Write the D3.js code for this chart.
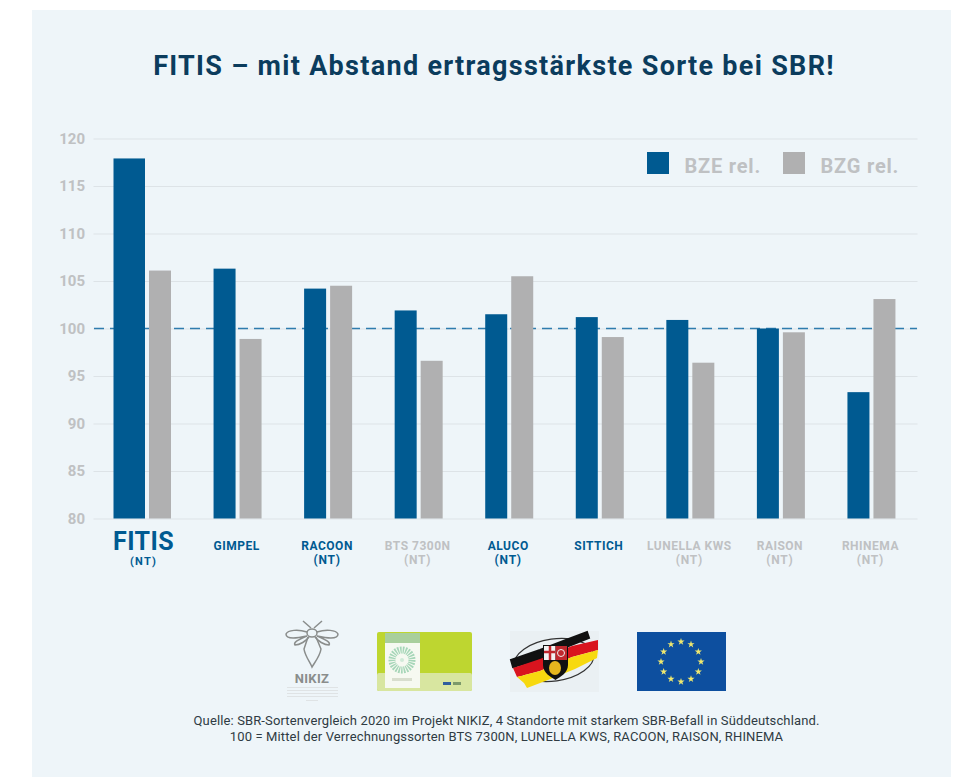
<!DOCTYPE html>
<html>
<head>
<meta charset="utf-8">
<script src="https://d3js.org/d3.v7.min.js"></script>
<style>
html,body{margin:0;padding:0;background:#fff;}
svg{display:block;}
text{font-family:Roboto,sans-serif;}
</style>
</head>
<body>
<script>
var sorten = ["FITIS","GIMPEL","RACOON","BTS 7300N","ALUCO","SITTICH","LUNELLA KWS","RAISON","RHINEMA"];
var zusatz = ["(NT)","","(NT)","(NT)","(NT)","","(NT)","(NT)","(NT)"];
var labelFarbe = ["blau","blau","blau","grau","blau","blau","grau","grau","grau"];
var bze = [117.9,106.3,104.2,101.9,101.5,101.2,100.9,100.0,93.3];
var bzg = [106.1,98.9,104.5,96.6,105.5,99.1,96.4,99.6,103.1];
var yTicks = [80,85,90,95,100,105,110,115,120];
var serien = ["BZE rel.","BZG rel."];
var quelle = ["Quelle: SBR-Sortenvergleich 2020 im Projekt NIKIZ, 4 Standorte mit starkem SBR-Befall in Süddeutschland.",
	"100 = Mittel der Verrechnungssorten BTS 7300N, LUNELLA KWS, RACOON, RAISON, RHINEMA"];

var w = 960, h = 777;
var blau = "#005a91", grau = "#b0b0b1", hell = "#bfc1c3", gitter = "#dde3e7";

var svg = d3.select("body").append("svg").attr("width",w).attr("height",h);

svg.append("rect").attr("x",32).attr("y",10).attr("width",919).attr("height",767).attr("fill","#eef5f9");

svg.append("text").attr("x",494).attr("y",75)
	.attr("text-anchor","middle")
	.attr("font-size",27).attr("font-weight",700).attr("letter-spacing",1.3)
	.attr("fill","#0b3c5d")
	.text("FITIS – mit Abstand ertragsstärkste Sorte bei SBR!");

var y = d3.scaleLinear().domain([80,120]).range([518.5,138.5]);
var x = d3.scaleBand().domain(sorten).range([145,960]).padding(0);
var bw = 22, gap = 4;

var yAxis = d3.axisLeft(y).tickValues(yTicks).tickSize(-824).tickPadding(8);
var gy = svg.append("g").attr("transform","translate(93.5,0)").call(yAxis);
gy.select(".domain").remove();
gy.selectAll(".tick line").attr("stroke",gitter).attr("stroke-width",1);
gy.selectAll(".tick text").attr("font-size",15).attr("font-weight",700).attr("fill",hell).attr("x",-8.5);

svg.append("line").attr("x1",94).attr("x2",917).attr("y1",y(100)).attr("y2",y(100))
	.attr("stroke","#2f7cae").attr("stroke-width",1.7).attr("stroke-dasharray","10 6");

// FITIS bar is wider, grows to the left
var bars = svg.append("g");
bars.selectAll("rect.bze").data(bze).enter().append("rect")
	.attr("class","bze")
	.attr("x",function(d,i){ return x(sorten[i]) - bw - (i==0 ? 9.5 : 0); })
	.attr("width",function(d,i){ return i==0 ? bw+9.5 : bw; })
	.attr("y",function(d){ return y(d); })
	.attr("height",function(d){ return y(80)-y(d); })
	.attr("fill",blau);
bars.selectAll("rect.bzg").data(bzg).enter().append("rect")
	.attr("class","bzg")
	.attr("x",function(d,i){ return x(sorten[i]) + gap; })
	.attr("width",bw)
	.attr("y",function(d){ return y(d); })
	.attr("height",function(d){ return y(80)-y(d); })
	.attr("fill",grau);

var labels = svg.append("g");
sorten.forEach(function(s,i){
	var cx = x(s) + (i==0 ? -1.5 : 1);
	var col = labelFarbe[i]=="blau" ? blau : hell;
	labels.append("text").attr("x",cx).attr("y",i==0 ? 550 : 549.5)
		.attr("text-anchor","middle").attr("font-weight",700)
		.attr("font-size",i==0 ? 25 : 12).attr("letter-spacing",i==0 ? 0.4 : 0.5)
		.attr("fill",col).text(s);
	labels.append("text").attr("x",cx).attr("y",i==0 ? 564.5 : 564)
		.attr("text-anchor","middle").attr("font-weight",700)
		.attr("font-size",i==0 ? 11 : 12).attr("letter-spacing",i==0 ? 1.2 : 0.8)
		.attr("fill",col).text(zusatz[i]);
});

// legend
var leg = svg.append("g");
serien.forEach(function(s,i){
	leg.append("rect").attr("x",647+i*136).attr("y",152).attr("width",22).attr("height",22)
		.attr("fill",i==0 ? blau : grau);
	leg.append("text").attr("x",684.5+i*136).attr("y",173)
		.attr("font-size",20).attr("font-weight",700).attr("letter-spacing",0.8)
		.attr("fill",hell).text(s);
});

// logos
var nikiz = svg.append("g").attr("fill","none").attr("stroke","#8a8d8c").attr("stroke-width",1.5);
nikiz.append("path").attr("d","M303 621L311 628M322 621L314 628");
nikiz.append("ellipse").attr("cx",312).attr("cy",633).attr("rx",5).attr("ry",4);
nikiz.append("path").attr("d","M307 632C298 629 288 630 286 634C286 640 298 638 307 636C298 640 293 642 295 645C300 645 306 641 309 637");
nikiz.append("path").attr("d","M317 632C326 629 336 630 338 634C338 640 326 638 317 636C326 640 331 642 329 645C324 645 318 641 315 637");
nikiz.append("path").attr("d","M308 637L304 649C305 656 310 662 312 667C315 662 320 656 321 649L316 637");
svg.append("text").attr("x",312).attr("y",683).attr("text-anchor","middle")
	.attr("font-size",13).attr("font-weight",700).attr("letter-spacing",0.3).attr("fill","#8a8d8c").text("NIKIZ");
svg.selectAll("rect.mini").data([687,690,693,696,700]).enter().append("rect").attr("class","mini")
	.attr("x",function(d,i){ return i==4 ? 306 : 287; }).attr("y",function(d){ return d; })
	.attr("width",function(d,i){ return i==4 ? 12 : 51; }).attr("height",1).attr("fill","#dfe3e5");

var karte = svg.append("g");
karte.append("rect").attr("x",377).attr("y",632).attr("width",95).attr("height",59).attr("rx",2).attr("fill","#bed630");
karte.append("rect").attr("x",377).attr("y",673).attr("width",95).attr("height",18).attr("rx",2).attr("fill","#d8e6a0");
karte.append("rect").attr("x",385).attr("y",633).attr("width",35).attr("height",10).attr("fill","#a9cf9c");
karte.append("rect").attr("x",385).attr("y",643).attr("width",35).attr("height",45).attr("fill","#f6f9f1");
karte.append("circle").attr("cx",402).attr("cy",660).attr("r",10).attr("fill","none").attr("stroke","#a6d6b8").attr("stroke-width",7).attr("stroke-dasharray","1.5 1");
karte.append("circle").attr("cx",402).attr("cy",660).attr("r",2).attr("fill","#d0ead8");
karte.append("rect").attr("x",392).attr("y",678).attr("width",20).attr("height",3).attr("fill","#d8dece");
karte.append("rect").attr("x",443).attr("y",682).attr("width",8).attr("height",3).attr("fill","#2f5f9e");
karte.append("rect").attr("x",453).attr("y",682).attr("width",8).attr("height",3).attr("fill","#7d9a6a");

var rlp = svg.append("g");
rlp.append("rect").attr("x",510).attr("y",631).attr("width",89).attr("height",61).attr("fill","#eaf0f3");
rlp.append("ellipse").attr("cx",554).attr("cy",660).attr("rx",40).attr("ry",21)
	.attr("transform","rotate(-8 554 660)").attr("fill","none").attr("stroke","#333").attr("stroke-width",1.2);
rlp.append("path").attr("d","M511 660L540 650L566 640L587 632L589 638L566 647L538 660L513 667Z").attr("fill","#111").attr("stroke","#111").attr("stroke-width",2);
rlp.append("path").attr("d","M513 668L540 659L572 646L598 640L598 650L572 657L540 671L517 677Z").attr("fill","#d9141e");
rlp.append("path").attr("d","M517 677L540 671L572 657L598 650L597 658L575 669L548 680L527 688L524 683Z").attr("fill","#f7d90f");
rlp.append("path").attr("d","M543 645H568V665C568 673 560 677 555.5 680C551 677 543 673 543 665Z").attr("fill","#111");
rlp.append("rect").attr("x",544).attr("y",646).attr("width",11.5).attr("height",14).attr("fill","#f2f2f2");
rlp.append("rect").attr("x",555.5).attr("y",646).attr("width",11.5).attr("height",14).attr("fill","#c1272d");
rlp.append("path").attr("d","M550 646V660M544 652H555").attr("stroke","#c1272d").attr("stroke-width",2.5);
rlp.append("circle").attr("cx",561).attr("cy",653).attr("r",3.5).attr("fill","none").attr("stroke","#eee");
rlp.append("ellipse").attr("cx",555).attr("cy",668).attr("rx",6).attr("ry",7).attr("fill","#e6b71e");

var eu = svg.append("g");
eu.append("rect").attr("x",637).attr("y",632).attr("width",89).attr("height",59).attr("fill","#0d4f9f");
var stern = d3.symbol().type(d3.symbolStar).size(16);
eu.selectAll("path").data(d3.range(12)).enter().append("path")
	.attr("d",stern)
	.attr("transform",function(d){
		var a = d*Math.PI/6;
		return "translate("+(681+20*Math.sin(a))+","+(661.7-20*Math.cos(a))+")";
	})
	.attr("fill","#efe86f");

svg.selectAll("text.quelle").data(quelle).enter().append("text")
	.attr("class","quelle")
	.attr("x",506.5).attr("y",function(d,i){ return 725+i*16; })
	.attr("text-anchor","middle").attr("font-size",13).attr("letter-spacing",0.13)
	.attr("fill","#2f3b43")
	.text(function(d){ return d; });
</script>
</body>
</html>
